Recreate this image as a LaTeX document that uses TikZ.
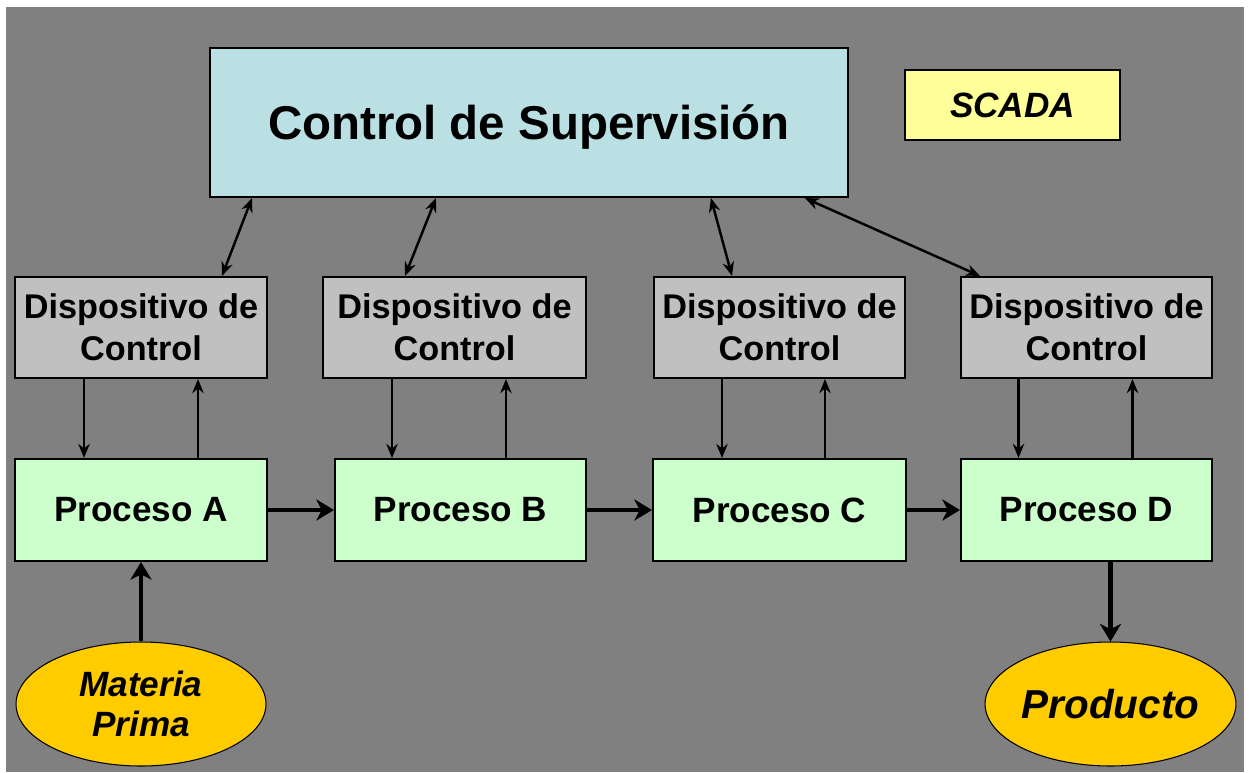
\documentclass[tikz,border=0pt]{standalone}
\usepackage{fontspec}
\setmainfont{Liberation Sans}
\usetikzlibrary{arrows.meta,shapes.geometric}

\definecolor{bggray}{HTML}{808080}
\definecolor{supcyan}{HTML}{BAE0E4}
\definecolor{dispgray}{HTML}{C0C0C0}
\definecolor{procgreen}{HTML}{CCFFCC}
\definecolor{scadayellow}{HTML}{FFFF99}
\definecolor{matorange}{HTML}{FFCC00}

\begin{document}
\begin{tikzpicture}[x=0.02cm,y=-0.02cm,
    box/.style={draw=black,line width=1.2pt,align=center,inner sep=0pt,
      font=\bfseries\fontsize{20}{24}\selectfont},
    supbox/.style={box,fill=supcyan,minimum width=12.76cm,minimum height=2.98cm,text depth=0pt,
      font=\bfseries\fontsize{27}{32}\selectfont},
    scadabox/.style={box,fill=scadayellow,line width=0.8pt,minimum width=4.3cm,minimum height=1.4cm,
      font=\bfseries\itshape\fontsize{20}{24}\selectfont},
    dispbox/.style={box,fill=dispgray,minimum height=2.02cm,
      font=\bfseries\fontsize{19.5}{23.8}\selectfont},
    procbox/.style={box,fill=procgreen,minimum height=2.04cm},
    matnode/.style={ellipse,draw=black,line width=0.6pt,fill=matorange,align=center,inner sep=0pt,
      minimum width=5cm,minimum height=2.48cm,font=\bfseries\itshape\fontsize{20}{22.6}\selectfont},
    dblarrow/.style={line width=1.4pt,{Stealth[length=8pt,width=6.5pt]}-{Stealth[length=8pt,width=6.5pt]}},
    thinarrow/.style={line width=1.4pt,-{Stealth[length=8pt,width=6.5pt]}},
    bigarrow/.style={line width=2.3pt,-{Stealth[length=10pt,width=12pt,inset=3pt]}}]

    \useasboundingbox (0,0) rectangle (1249,772);
    \fill[bggray] (6,7) rectangle (1244,772);

    % upper level
    \node[supbox] (sup) at (529,122.5) {Control de Supervisión};
    \node[scadabox] (scada) at (1012.5,105) {SCADA};

    % devices and processes
    \foreach \n/\dx/\dw/\px/\pw in {A/141/5.04/141/5.04, B/454.5/5.26/460.5/5.02,
        C/779.5/5.02/779.5/5.06, D/1086.5/5.02/1086.5/5.02} {
      \node[dispbox, minimum width=\dw cm] (d\n) at (\dx,327.5) {Dispositivo de\\Control};
      \node[procbox, minimum width=\pw cm] (p\n) at (\px,510) {Proceso \n};
    }

    \node[matnode] (mp) at (141,704) {Materia\\Prima};
    \node[matnode, font=\bfseries\itshape\fontsize{23}{26}\selectfont] (prod) at (1110.5,704) {Producto};

    % supervision <-> devices
    \foreach \n/\top/\bot in {A/0.86/1.62, B/4.54/-0.99, C/10.04/-0.95, D/11.92/-2.13}
      \draw[dblarrow] ([xshift=\top cm]sup.south west) -- ([xshift=\bot cm]d\n.north);

    % devices <-> processes
    \foreach \n/\dn/\up in {A/-1.14/1.14, B/-1.25/1.03, C/-1.15/0.91, D/-1.36/0.92} {
      \draw[thinarrow] ([xshift=\dn cm]d\n.south) -- ([xshift=\dn cm]d\n.south |- p\n.north);
      \draw[thinarrow] ([xshift=\up cm]d\n.south |- p\n.north) -- ([xshift=\up cm]d\n.south);
    }

    % material flow
    \draw[bigarrow] (pA.east) -- (pB.west);
    \draw[bigarrow] (pB.east) -- (pC.west);
    \draw[bigarrow] (pC.east) -- (pD.west);
    \draw[bigarrow] (mp.north) -- (pA.south);
    \draw[bigarrow] (prod.north |- pD.south) -- (prod.north);
\end{tikzpicture}
\end{document}
